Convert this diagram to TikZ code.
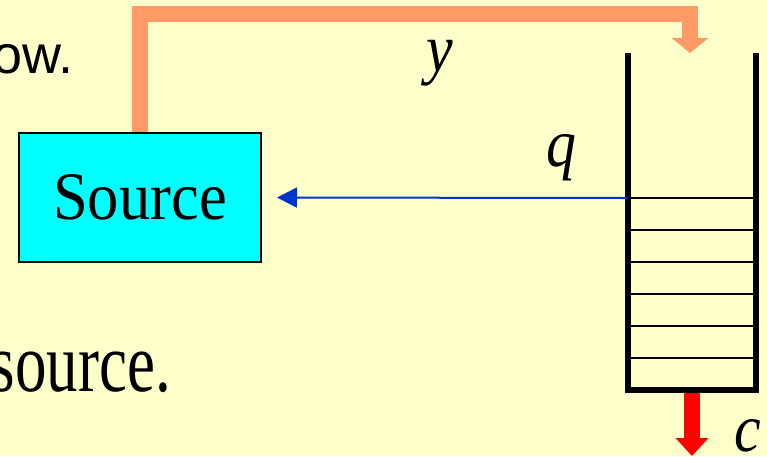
\documentclass[tikz,border=0pt]{standalone}
\usepackage{fontspec}
\usepackage{graphicx}
\setmainfont{Liberation Serif}
\newfontfamily\sansf{Liberation Sans}
\usetikzlibrary{arrows.meta}
\definecolor{bgyellow}{HTML}{FFFFCC}
\definecolor{feedorange}{HTML}{FF9966}
\definecolor{reqblue}{HTML}{0033CC}
\definecolor{srccyan}{HTML}{00FFFF}
\tikzset{
  srcbox/.style={draw=black, line width=2pt, fill=srccyan, minimum width=242pt, minimum height=129pt, inner sep=0pt},
  wall/.style={draw=black, line width=6pt, line join=miter},
  slot/.style={draw=black, line width=2pt},
  feed/.style={draw=feedorange, line width=16pt, line join=miter, -{Triangle[length=15pt,width=36pt]}},
  reqarrow/.style={draw=reqblue, line width=2pt, -{Triangle[length=20pt,width=20pt]}},
  drain/.style={draw=red, line width=16pt, -{Triangle[length=18pt,width=32pt]}},
  mathlbl/.style={anchor=base, inner sep=0pt, font=\fontsize{68}{80}\selectfont\itshape},
  bodytext/.style={inner sep=0pt, anchor=base east}
}
\begin{document}
\begin{tikzpicture}[x=1pt,y=-1pt]
\useasboundingbox (0,0) rectangle (767,456);
\clip (0,0) rectangle (767,456);
\fill[bgyellow] (0,0) rectangle (767,456);

% body text fragments
\node[bodytext, font=\fontsize{54}{64}\selectfont\sansf] (ow) at (74,73) {ow.};
\node[bodytext] (src) at (171,391) {\fontsize{84}{96}\selectfont\scalebox{0.75}[1]{source.}};

% source box
\node[srcbox] (source) at (140,197.5) {\fontsize{68}{80}\selectfont\scalebox{0.92}[1]{Source}};

% queue
\coordinate (qtl) at (628,53);
\coordinate (qbl) at (628,390);
\coordinate (qbr) at (756,390);
\coordinate (qtr) at (756,53);
\draw[wall] (qtl) -- (qbl) -- (qbr) -- (qtr);
\foreach \yy in {198,230,262,294,326,358} {
  \draw[slot] (631,\yy) -- (753,\yy);
}

% feedback y
\coordinate (ycorner) at (140,14);
\coordinate (ytop) at (690,53);
\draw[feed] (source.north) -- (ycorner) -| (ytop);

% q request
\coordinate (qin) at (628,198);
\draw[reqarrow, shorten >=15pt] (qin) -- (source.east);

% output c
\coordinate (qout) at (692,393);
\coordinate (cend) at (692,456);
\draw[drain] (qout) -- (cend);

% labels
\node[mathlbl, xscale=0.88] (ylbl) at (440,71) {y};
\node[mathlbl, xscale=0.88] (qlbl) at (561,166) {q};
\node[mathlbl, xscale=0.88] (clbl) at (748,451) {c};
\end{tikzpicture}
\end{document}
